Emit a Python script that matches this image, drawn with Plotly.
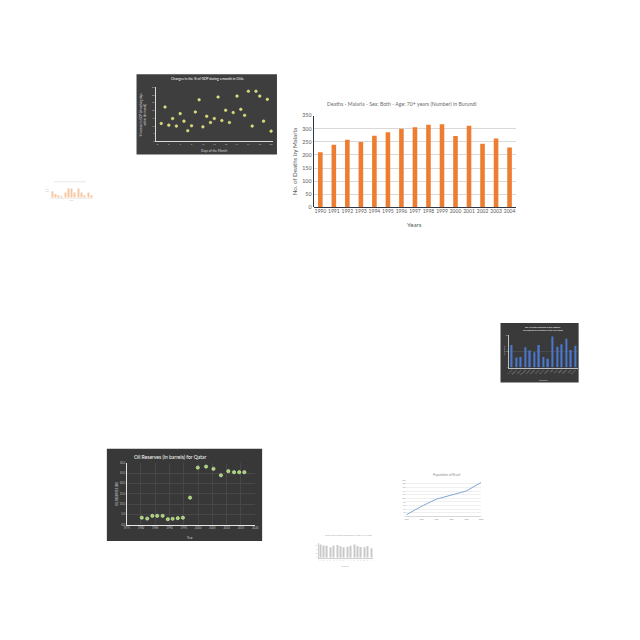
import plotly.graph_objects as go

# ---------------- data ----------------
# Main chart: Burundi malaria deaths 70+
years = ["1990", "1991", "1992", "1993", "1994", "1995", "1996", "1997",
         "1998", "1999", "2000", "2001", "2002", "2003", "2004"]
deaths = [210, 239, 258, 249, 273, 287, 300, 306, 315, 317, 272, 311, 243, 263, 228]

# Chile GDP scatter thumbnail
chile_days = list(range(1, 31))
chile_change = [11.4, 22.1, 10.3, 14.6, 9.7, 17.8, 12.9, 6.7, 9.9, 18.9,
                26.8, 9.2, 16.1, 12.0, 14.6, 28.6, 13.3, 20.0, 12.0, 18.5,
                29.2, 20.6, 16.7, 32.4, 9.7, 32.4, 29.2, 12.9, 27.1, 6.4]

# Tiny orange thumbnail
tiny_cats = list(range(1, 14))
tiny_vals = [5, 3, 2, 1, 4, 7, 7, 4, 7, 4, 2, 4, 2]

# Qatar oil reserves thumbnail
qatar_years = [1980.3, 1982.2, 1984, 1985.7, 1987.6, 1989.4, 1991.1, 1992.9,
               1994.7, 1997.2, 1999.9, 2002.8, 2005.4, 2008, 2010.6, 2012.6,
               2014.4, 2016.2]
qatar_oil = [3.4, 3.0, 4.3, 4.3, 4.3, 2.7, 2.9, 3.2, 3.4, 13.1, 27.6, 28.1,
             27.0, 23.9, 25.9, 25.4, 25.4, 25.4]
qatar_ticks = [1975, 1980, 1985, 1990, 1995, 2000, 2005, 2010, 2015, 2020]

# Blue bar thumbnail
blue_cats = ["Austria", "Belgium", "Cyprus", "Denmark", "Estonia", "Finland",
             "France", "Greece", "Ireland", "Italy", "Latvia", "Malta",
             "Poland", "Spain", "Sweden"]
blue_vals = [69, 31, 32, 62, 52, 47, 69, 32, 27, 95, 64, 71, 88, 54, 67]

# Population line thumbnail
pop_years = ["1950", "1960", "1970", "1980", "1990", "2000"]
pop_vals = [9, 55, 95, 118, 140, 187]

# Bottom small grey bar thumbnail
small_cats = ["A", "B", "C", "D", "E", "F", "G", "H", "I", "J", "K", "L",
              "M", "N", "O", "P"]
small_vals = [62, 58, 57, 50, 57, 60, 54, 49, 52, 57, 62, 55, 51, 49, 55, 45]

# ---------------- helpers ----------------
W = 640.0


def dxr(a, b):
    return [a / W, b / W]


def dyr(top, bottom):
    return [1 - bottom / W, 1 - top / W]


def px(x):
    return x / W


def py(y):
    return 1 - y / W


FONT = "Lato, Open Sans, sans-serif"


def note(text, x, y, size, color, angle=0, xanchor="center"):
    return dict(text=text, x=px(x), y=py(y), xref="paper", yref="paper",
                showarrow=False, xanchor=xanchor, yanchor="middle",
                textangle=angle, font=dict(family=FONT, size=size, color=color))


fig = go.Figure()

# main bars
fig.add_trace(go.Bar(x=years, y=deaths, marker_color="#ED7D31",
                     marker_line_width=0, xaxis="x", yaxis="y",
                     showlegend=False))
# Chile scatter
fig.add_trace(go.Scatter(x=chile_days, y=chile_change, mode="markers",
                         marker=dict(size=2.6, color="#d6d65a",
                                     line=dict(width=0.5, color="#f2f2b0")),
                         xaxis="x2", yaxis="y2", showlegend=False))
# tiny orange bars
fig.add_trace(go.Bar(x=tiny_cats, y=tiny_vals, marker_color="#f6c9a4",
                     marker_line_width=0, xaxis="x3", yaxis="y3",
                     showlegend=False))
# Qatar scatter
fig.add_trace(go.Scatter(x=qatar_years, y=qatar_oil, mode="markers",
                         marker=dict(size=3.2, color="#9bd35a",
                                     line=dict(width=0.6, color="#e8f5d0")),
                         xaxis="x4", yaxis="y4", showlegend=False))
# blue bars
fig.add_trace(go.Bar(x=blue_cats, y=blue_vals, marker_color="#4a78d0",
                     marker_line_width=0, xaxis="x5", yaxis="y5",
                     showlegend=False))
# population line
fig.add_trace(go.Scatter(x=pop_years, y=pop_vals, mode="lines",
                         line=dict(color="#7fa9d6", width=1),
                         xaxis="x6", yaxis="y6", showlegend=False))
# small grey bars
fig.add_trace(go.Bar(x=small_cats, y=small_vals, marker_color="#c9c9c9",
                     marker_line_width=0, xaxis="x7", yaxis="y7",
                     showlegend=False))

shapes = [
    # dark backgrounds
    dict(type="rect", xref="paper", yref="paper", x0=px(135), x1=px(277),
         y0=py(153), y1=py(72), fillcolor="#3e3e3e", line_width=0,
         layer="below"),
    dict(type="rect", xref="paper", yref="paper", x0=px(105), x1=px(262),
         y0=py(543), y1=py(450), fillcolor="#383838", line_width=0,
         layer="below"),
    dict(type="rect", xref="paper", yref="paper", x0=px(503), x1=px(582),
         y0=py(383), y1=py(323), fillcolor="#3a3a3a", line_width=0,
         layer="below"),
    # tiny thumbnail title line
    dict(type="line", xref="paper", yref="paper", x0=px(52), x1=px(84),
         y0=py(180.5), y1=py(180.5), line=dict(color="#e6e6e6", width=1)),
]

annotations = [
    # main chart
    note("Deaths - Malaria - Sex: Both - Age: 70+ years (Number) in Burundi",
         403, 102, 5.2, "#6b6b6b"),
    note("Years", 416, 223.5, 6.2, "#595959"),
    note("No. of Deaths by Malaria", 295, 160, 6.2, "#595959", angle=-90),
    # Chile
    note("Changes in the % of GDP during a month in Chile", 207, 76.5, 3.4,
         "#ffffff"),
    note("Days of the Month", 213, 149, 3.2, "#d9d9d9"),
    note("% increase in GDP (of working days<br>within the month)", 142, 112,
         2.8, "#d9d9d9", angle=-90),
    # tiny thumbnail
    note("Sales<br>(units)", 45, 189, 1.6, "#bfbfbf"),
    note("Month", 69, 199, 1.5, "#bfbfbf"),
    # Qatar
    note("Oil Reserves (in barrels) for Qatar", 130, 458.5, 5.0, "#ffffff",
         xanchor="left"),
    note("Year", 190, 540, 3, "#d9d9d9"),
    note("OIL RESERVES (BN)", 115, 495, 2.8, "#d9d9d9", angle=-90),
    # blue bars
    note("No. of seats allocated to the national<br>parliaments by countries in the year 2008",
         546, 328.5, 2.2, "#ffffff"),
    note("Countries", 546, 381, 2, "#d9d9d9"),
    note("No. of seats", 507, 351, 2, "#d9d9d9", angle=-90),
    # population
    note("Population of Brazil", 448, 476, 3.2, "#8c8c8c"),
    # bottom small grey
    note("Share of government expenditure in GDP (%) in 2008", 349, 537.7, 2,
         "#a6a6a6"),
    note("Countries", 346, 568, 1.8, "#a6a6a6"),
]

fig.update_layout(
    width=640, height=640,
    margin=dict(l=0, r=0, t=0, b=0),
    paper_bgcolor="#ffffff", plot_bgcolor="rgba(0,0,0,0)",
    bargap=0.66,
    shapes=shapes, annotations=annotations,
    font=dict(family=FONT),
    # main
    xaxis=dict(domain=dxr(314, 519), anchor="y", type="category",
               tickangle=0, showline=False, ticks="",
               tickfont=dict(size=5, color="#595959"),
               showgrid=False, fixedrange=True),
    yaxis=dict(domain=dyr(113.7, 206.3), anchor="x", range=[0, 350],
               dtick=50, showline=True, linecolor="#2e3440", linewidth=1,
               gridcolor="#d9d9d9", gridwidth=0.6, zeroline=True,
               zerolinecolor="#2e3440", zerolinewidth=1.2, ticks="",
               tickfont=dict(size=5.3, color="#595959")),
    # Chile
    xaxis2=dict(domain=dxr(155, 273), anchor="y2", range=[-0.3, 30.5],
                tickvals=[0, 3, 6, 9, 12, 15, 18, 21, 24, 27, 30],
                tickangle=0,
                showgrid=False, showline=True, linecolor="#d9d9d9",
                linewidth=0.8, zeroline=False, ticks="",
                tickfont=dict(size=2.6, color="#bfbfbf")),
    yaxis2=dict(domain=dyr(85, 139.3), anchor="x2", range=[0, 35], dtick=5,
                showgrid=False, showline=True, linecolor="#d9d9d9",
                linewidth=0.8, zeroline=False, ticks="",
                tickfont=dict(size=2.6, color="#bfbfbf")),
    # tiny orange
    xaxis3=dict(domain=dxr(48, 91), anchor="y3", showticklabels=False,
                showgrid=False, showline=True, linecolor="#eeeeee",
                linewidth=0.5, ticks=""),
    yaxis3=dict(domain=dyr(186, 196.7), anchor="x3", range=[0, 8],
                showticklabels=False, showgrid=False, zeroline=False,
                ticks=""),
    # Qatar
    xaxis4=dict(domain=dxr(125, 255), anchor="y4", range=[1975, 2020],
                tickvals=qatar_ticks, tickangle=0, showgrid=True,
                gridcolor="#474747",
                gridwidth=0.5, showline=True, linecolor="#e6e6e6",
                linewidth=0.8, zeroline=False, ticks="",
                tickfont=dict(size=2.8, color="#bfbfbf")),
    yaxis4=dict(domain=dyr(464, 526.7), anchor="x4", range=[0, 30], dtick=5,
                tickformat=".1f", showgrid=True, gridcolor="#474747",
                gridwidth=0.5, showline=True, linecolor="#e6e6e6",
                linewidth=0.8, zeroline=False, ticks="",
                tickfont=dict(size=2.8, color="#bfbfbf")),
    # blue bars
    xaxis5=dict(domain=dxr(512, 581), anchor="y5", type="category",
                tickangle=-45, showgrid=False, showline=True,
                linecolor="#bfbfbf", linewidth=0.5, ticks="",
                tickfont=dict(size=1.8, color="#bfbfbf")),
    yaxis5=dict(domain=dyr(335, 368), anchor="x5", range=[0, 100],
                showgrid=True, gridcolor="#4a4a4a", gridwidth=0.4,
                zeroline=False, showline=True, linecolor="#bfbfbf",
                linewidth=0.5, ticks="", tickfont=dict(size=1.8, color="#bfbfbf")),
    # population
    xaxis6=dict(domain=dxr(407.7, 483.3), anchor="y6", type="category",
                tickangle=0,
                showgrid=False, showline=True, linecolor="#d9d9d9",
                linewidth=0.5, ticks="", tickfont=dict(size=2, color="#8c8c8c")),
    yaxis6=dict(domain=dyr(481.7, 518.3), anchor="x6", range=[0, 200],
                dtick=20, showgrid=True, gridcolor="#f0f0f0", gridwidth=0.5,
                zeroline=False, ticks="", tickfont=dict(size=1.8, color="#8c8c8c")),
    # bottom small grey
    xaxis7=dict(domain=dxr(319, 374), anchor="y7", type="category",
                tickangle=-50, showgrid=False, showline=True,
                linecolor="#d0d0d0", linewidth=0.5, ticks="",
                tickfont=dict(size=1.6, color="#b0b0b0")),
    yaxis7=dict(domain=dyr(545, 560), anchor="x7", range=[0, 70],
                showgrid=False, zeroline=False, showline=True,
                linecolor="#d0d0d0", linewidth=0.5, ticks="",
                tickfont=dict(size=1.6, color="#b0b0b0")),
)

fig.write_html("out.html", config={"displayModeBar": False},
               post_script="document.body.style.margin='0';")
